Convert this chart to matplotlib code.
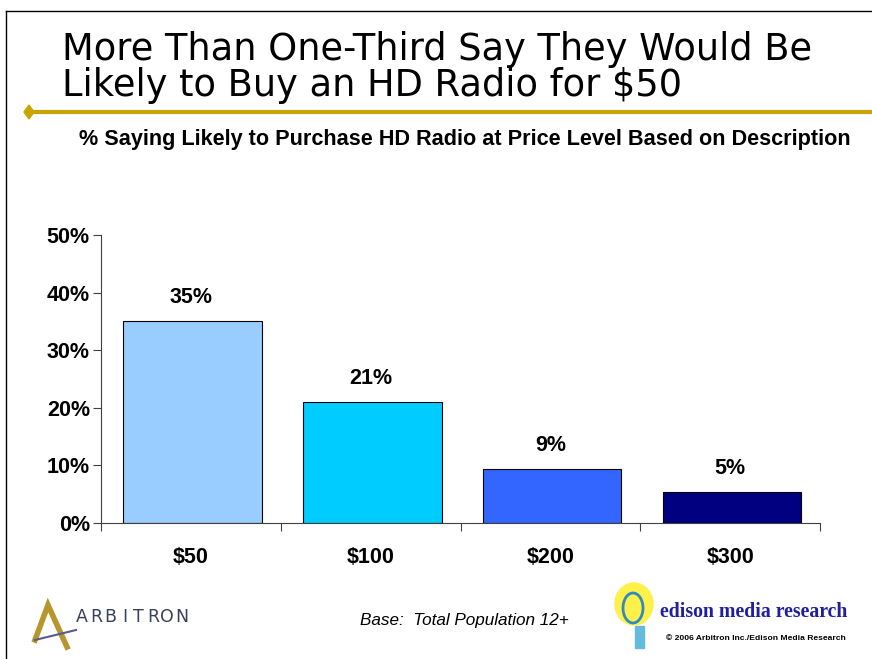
import numpy as np
import matplotlib.pyplot as plt
from matplotlib.patches import Polygon, Ellipse, Rectangle
from matplotlib.lines import Line2D

# chart data
prices = ['$50', '$100', '$200', '$300']
pct_likely = [35.0, 21.0, 9.4, 5.4]
pct_labels = ['35%', '21%', '9%', '5%']
bar_colors = ['#99CCFF', '#00CCFF', '#3366FF', '#000080']
y_ticks = [0, 10, 20, 30, 40, 50]

W, H = 872, 659
fig = plt.figure(figsize=(W / 100, H / 100), dpi=100, facecolor='white')


def px(x, y):
    # pixel coords (top-left origin) -> figure fraction
    return x / W, 1 - y / H


def line(xs, ys, **kw):
    fig.add_artist(Line2D([x / W for x in xs], [1 - y / H for y in ys],
                          transform=fig.transFigure, **kw))


# slide frame
line([6, 6], [11, H], color='black', lw=1)
line([6, W], [11, 11], color='black', lw=1)

# title
fig.text(*px(62, 50), 'More Than One-Third Say They Would Be', fontsize=26.5, family='DejaVu Sans',
         va='center', ha='left')
fig.text(*px(62, 86), 'Likely to Buy an HD Radio for $50', fontsize=26.5, family='DejaVu Sans',
         va='center', ha='left')

# gold rule with diamond
gold = '#C8A400'
line([30, W], [112, 112], color=gold, lw=3)
fig.add_artist(Polygon([px(24, 112), px(29, 105), px(34, 112), px(29, 119)], closed=True,
                       transform=fig.transFigure, color=gold))

# subtitle
fig.text(*px(465, 140), '% Saying Likely to Purchase HD Radio at Price Level Based on Description',
         fontsize=15.6, fontweight='bold', family='Liberation Sans', ha='center', va='center')

# chart area
l, b = px(101, 523)
ax = fig.add_axes([l, b, 719 / W, 288 / H])
x = np.arange(len(prices))
ax.bar(x + 0.01, pct_likely, width=0.77, color=bar_colors, edgecolor='black', linewidth=0.8, zorder=2)
for xi, v, lab in zip(x, pct_likely, pct_labels):
    ax.text(xi, v + 2.3, lab, ha='center', va='bottom', fontsize=15.5, fontweight='bold',
            family='Liberation Sans')

ax.set_xlim(-0.5, len(prices) - 0.5)
ax.set_ylim(0, 50)
ax.set_yticks(y_ticks)
ax.set_yticklabels([f'{t}%' for t in y_ticks], fontsize=15.5, fontweight='bold', family='Liberation Sans')
ax.set_xticks(np.arange(len(prices) + 1) - 0.5)
ax.set_xticklabels([])
ax.tick_params(axis='x', direction='out', length=6, color='#404040')
ax.tick_params(axis='y', direction='out', length=6, color='#404040', pad=2)
for xi, p in zip(x, prices):
    ax.text(xi, -6.0, p, ha='center', va='center', fontsize=15.5, fontweight='bold',
            family='Liberation Sans')
for s in ['top', 'right']:
    ax.spines[s].set_visible(False)
for s in ['left', 'bottom']:
    ax.spines[s].set_color('#404040')
ax.set_facecolor('none')

# footer: Arbitron logo (rough)
line([35, 48, 67], [640, 605, 647], color='#B8962E', lw=4, solid_joinstyle='miter')
line([35, 76], [640, 630], color='#5A5A90', lw=1.5)
for i, ch in enumerate('ARBITRON'):
    fig.text(*px(82 + i * 14.2, 617), ch, fontsize=12.5, family='DejaVu Sans', color='#3A3F5C',
             ha='center', va='center')

# base note
fig.text(*px(464, 621), 'Base:  Total Population 12+', fontsize=12.3, style='italic',
         family='Liberation Sans', ha='center', va='center')

# Edison logo (rough)
fig.add_artist(Ellipse(px(634, 604), 38 / W, 42 / H, transform=fig.transFigure, color='#FFF04A'))
fig.add_artist(Ellipse(px(633, 608), 20 / W, 30 / H, transform=fig.transFigure, fill=False,
                       edgecolor='#2E8BC0', lw=2))
fig.add_artist(Rectangle(px(635, 648), 9 / W, 22 / H, transform=fig.transFigure, color='#66BBDD'))
fig.text(*px(660, 612), 'edison media research', fontsize=14.2, fontweight='bold',
         family='Liberation Serif', color='#1F1FA0', ha='left', va='center')
fig.text(*px(846, 638), '© 2006 Arbitron Inc./Edison Media Research', fontsize=6.1, fontweight='bold',
         family='Liberation Sans', ha='right', va='center')

fig.savefig('out.png', dpi=100, facecolor='white')
